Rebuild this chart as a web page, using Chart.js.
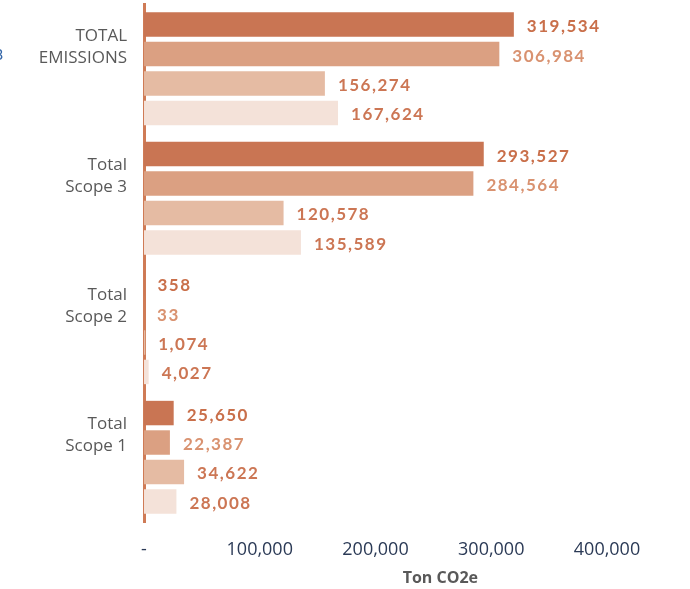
<!DOCTYPE html>
<html>
<head>
<meta charset="utf-8">
<script src="https://cdn.jsdelivr.net/npm/chart.js@4"></script>
<style>
    html, body { margin: 0; padding: 0; background: #fff; overflow: hidden; }
    #wrap { position: relative; width: 690px; height: 589px; }
    #cut { position: absolute; left: -6px; top: 44px; font: 16px Lato, sans-serif; color: #3466a8; }
</style>
</head>
<body>
<div id="wrap">
    <canvas id="emissions" width="690" height="589"></canvas>
    <span id="cut">3</span>
</div>
<script>
    "use strict";

    // data
    var categories = [["TOTAL", "EMISSIONS"], ["Total", "Scope 3"], ["Total", "Scope 2"], ["Total", "Scope 1"]];
    var series1 = [319534, 293527, 358, 25650];
    var series2 = [306984, 284564, 33, 22387];
    var series3 = [156274, 120578, 1074, 34622];
    var series4 = [167624, 135589, 4027, 28008];
    var xTicks = [0, 100000, 200000, 300000, 400000];
    var axisTitle = "Ton CO2e";

    var barColors = ["#c97553", "#dba082", "#e5bba3", "#f4e2d9"];
    var labelColors = ["#c96f4a", "#d99270", "#cc7654", "#cc7654"];

    // value labels to the right of each bar
    var valueLabels = {
        id: "valueLabels",
        afterDatasetsDraw: function (chart) {
            var ctx = chart.ctx;
            ctx.save();
            ctx.font = "bold 17px Lato, sans-serif";
            ctx.letterSpacing = "1.5px";
            ctx.textAlign = "left";
            ctx.textBaseline = "middle";
            chart.data.datasets.forEach(function (ds, i) {
                ctx.fillStyle = labelColors[i];
                chart.getDatasetMeta(i).data.forEach(function (bar, j) {
                    ctx.fillText(ds.data[j].toLocaleString("en-US"), bar.x + 13, bar.y + 2);
                });
            });
            ctx.restore();
        }
    };

    // axis title, sits right of centre like the original
    var xTitle = {
        id: "xTitle",
        afterDraw: function (chart) {
            var ctx = chart.ctx;
            var x = chart.scales.x;
            ctx.save();
            ctx.font = "bold 16px 'Open Sans', sans-serif";
            ctx.fillStyle = "#595959";
            ctx.textAlign = "center";
            ctx.textBaseline = "middle";
            ctx.fillText(axisTitle, x.left + x.width * 0.64, 578);
            ctx.restore();
        }
    };

    var ctx1 = document.getElementById("emissions").getContext("2d");
    var myChart1 = new Chart(ctx1, {
        type: "bar",
        data: {
            labels: categories,
            datasets: [series1, series2, series3, series4].map(function (d, i) {
                return {
                    data: d,
                    backgroundColor: barColors[i],
                    categoryPercentage: 0.91,
                    barPercentage: 0.83
                };
            })
        },
        options: {
            indexAxis: "y",
            responsive: false,
            animation: false,
            layout: { padding: { top: 4, right: 83, bottom: 0, left: 0 } },
            plugins: {
                legend: { display: false },
                tooltip: { enabled: false }
            },
            scales: {
                x: {
                    min: 0,
                    max: 400000,
                    afterBuildTicks: function (axis) {
                        axis.ticks = xTicks.map(function (v) { return { value: v }; });
                    },
                    afterFit: function (axis) {
                        axis.height = 67;
                        axis.paddingLeft = 0;
                        axis.paddingRight = 0;
                    },
                    grid: { display: false },
                    border: { display: false },
                    ticks: {
                        color: "#2b3a56",
                        padding: 9,
                        font: { family: "'Open Sans', sans-serif", size: 18 },
                        callback: function (v) {
                            return v === 0 ? "-" : v.toLocaleString("en-US");
                        }
                    }
                },
                y: {
                    z: 1,
                    afterFit: function (axis) {
                        axis.width = 144;
                        axis.paddingTop = 0;
                        axis.paddingBottom = 0;
                    },
                    grid: { display: false },
                    border: { display: true, color: "#cf7b56", width: 3 },
                    ticks: {
                        color: "#595959",
                        padding: 9,
                        labelOffset: -22,
                        font: { family: "'Open Sans', sans-serif", size: 17, lineHeight: 1.3 }
                    }
                }
            }
        },
        plugins: [valueLabels, xTitle]
    });
</script>
</body>
</html>
